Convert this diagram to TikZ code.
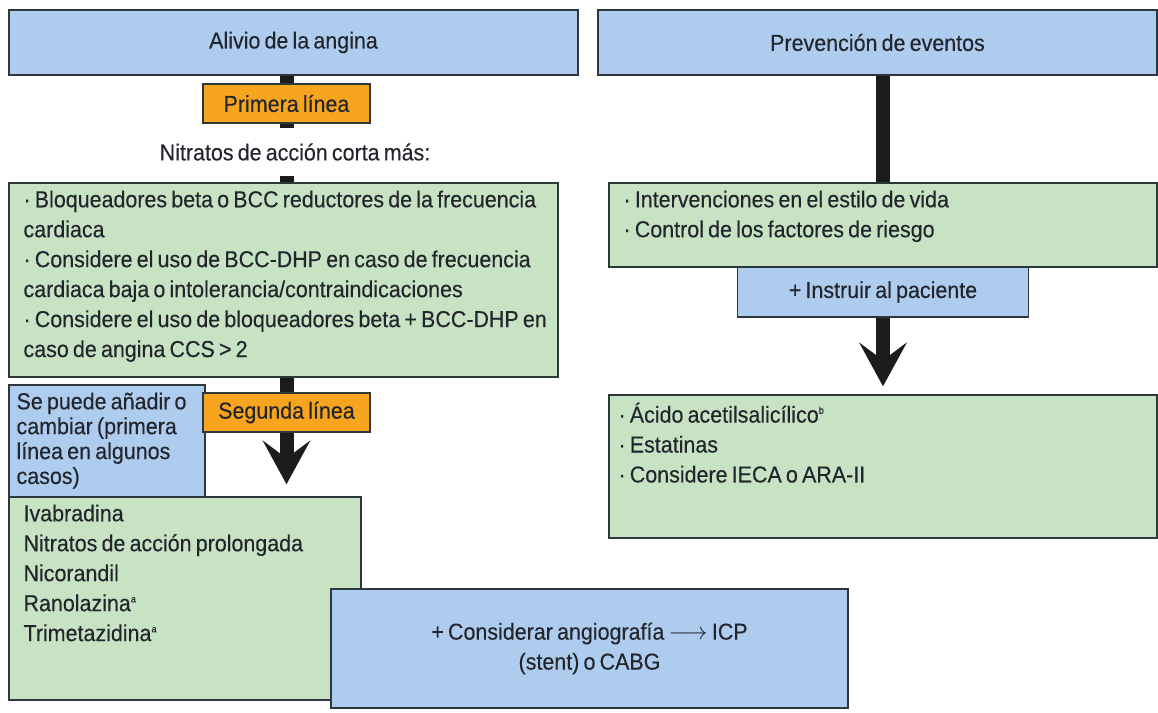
\documentclass[tikz,border=0pt]{standalone}
\usepackage{fontspec}
\setmainfont[FakeStretch=0.93,WordSpace=0.7,FakeBold=0.3]{Liberation Sans}
\usetikzlibrary{arrows.meta,positioning,backgrounds}
\definecolor{headblue}{RGB}{174,204,238}
\definecolor{listgreen}{RGB}{199,227,196}
\definecolor{lineorange}{RGB}{247,164,30}
\definecolor{boxline}{RGB}{45,55,60}
\definecolor{inkdark}{RGB}{34,38,44}
\definecolor{barblack}{RGB}{28,28,28}
\newcommand{\boxfont}{\fontsize{16.4pt}{21.3pt}\selectfont}
\newcommand{\tightfont}{\fontsize{16.4pt}{17.7pt}\selectfont}
\tikzset{
  header/.style={draw=boxline,line width=1pt,fill=headblue,text=inkdark,
                 font=\boxfont,inner sep=0pt},
  linebox/.style={header,fill=lineorange},
  greenbox/.style={draw=boxline,line width=1pt,fill=listgreen},
  bluebox/.style={greenbox,fill=headblue},
  list/.style={align=left,font=\boxfont,text=inkdark,inner xsep=0.375cm,inner ysep=0.2cm},
  note/.style={font=\boxfont,text=inkdark},
  bar/.style={draw=barblack,line width=0.35cm},
  flow/.style={bar,-{Stealth[length=1.1cm,width=1.2cm,inset=0.45cm,line width=0pt]}},
}

\begin{document}
\begin{tikzpicture}[x=0.025cm,y=-0.025cm]
  \path[use as bounding box] (0,0) rectangle (1158,712);

  % left column
  \node[header,minimum width=14.225cm,minimum height=1.625cm] (alivio) at (293.5,42.5)
    {Alivio de la angina};
  \node[linebox,minimum width=4.175cm,minimum height=0.975cm] (primera) at (286.5,103.5)
    {Primera línea};
  \node[note,minimum height=1.2cm] (nitratos) at (295,152) {Nitratos de acción corta más:};
  \node[greenbox,minimum width=13.725cm,minimum height=4.85cm] (bloq) at (283.5,280) {};
  \node[list,below right=0pt and 0pt of bloq.north west] (bloqlist)
    {· Bloqueadores beta o BCC reductores de la frecuencia\\
     cardiaca\\
     · Considere el uso de BCC-DHP en caso de frecuencia\\
     cardiaca baja o intolerancia/contraindicaciones\\
     · Considere el uso de bloqueadores beta + BCC-DHP en\\
     caso de angina CCS > 2};
  \node[bluebox,minimum width=4.9cm,minimum height=2.8cm] (sepuede) at (107,441) {};
  \node[list,font=\tightfont,inner xsep=0.2cm,below right=0pt and 0pt of sepuede.north west]
    (sepuedetxt) {Se puede añadir o\\cambiar (primera\\línea en algunos\\casos)};
  \node[linebox,minimum width=4.175cm,minimum height=0.975cm] (segunda) at (286.5,412.5)
    {Segunda línea};
  \node[greenbox,minimum width=8.8cm,minimum height=5.075cm] (drugs) at (185,598.5) {};
  \node[list,below right=0pt and 0pt of drugs.north west] (drugslist)
    {Ivabradina\\
     Nitratos de acción prolongada\\
     Nicorandil\\
     Ranolazina\textsuperscript{\scriptsize a}\\
     Trimetazidina\textsuperscript{\scriptsize a}};
  \node[bluebox,align=center,font=\boxfont,text=inkdark,minimum width=12.925cm,
        minimum height=2.975cm] (angio) at (589.5,648.5)
    {+ Considerar angiografía $\longrightarrow$ ICP\\(stent) o CABG};

  % right column
  \node[header,minimum width=13.975cm,minimum height=1.625cm] (prevencion) at (877.5,42.5)
    {Prevención de eventos};
  \node[greenbox,minimum width=13.7cm,minimum height=2.1cm] (estilo) at (883,225) {};
  \node[list,below right=0pt and 0pt of estilo.north west] (estilolist)
    {· Intervenciones en el estilo de vida\\
     · Control de los factores de riesgo};
  \node[bluebox,font=\boxfont,text=inkdark,minimum width=7.275cm,minimum height=1.25cm]
    (instruir) at (883,292) {+ Instruir al paciente};
  \node[greenbox,minimum width=13.7cm,minimum height=3.575cm] (farmacos) at (883,466.5) {};
  \node[list,inner xsep=0.25cm,below right=0pt and 0pt of farmacos.north west] (farmacoslist)
    {· Ácido acetilsalicílico\textsuperscript{\scriptsize b}\\
     · Estatinas\\
     · Considere IECA o ARA-II};

  \begin{scope}[on background layer]
    \draw[bar] (primera.north |- alivio.south) -- (primera.north);
    \draw[bar] (primera.south) -- (primera.south |- nitratos.north);
    \draw[bar] (primera.south |- nitratos.south) -- (primera.south |- bloq.north);
    \draw[flow,shorten >=0.3cm] (primera.south |- bloq.south) -- (primera.south |- drugs.north);
    \draw[bar] (estilo.north |- prevencion.south) -- (estilo.north);
    \draw[flow,shorten >=0.2cm] (instruir) -- (farmacos);
  \end{scope}
\end{tikzpicture}
\end{document}
